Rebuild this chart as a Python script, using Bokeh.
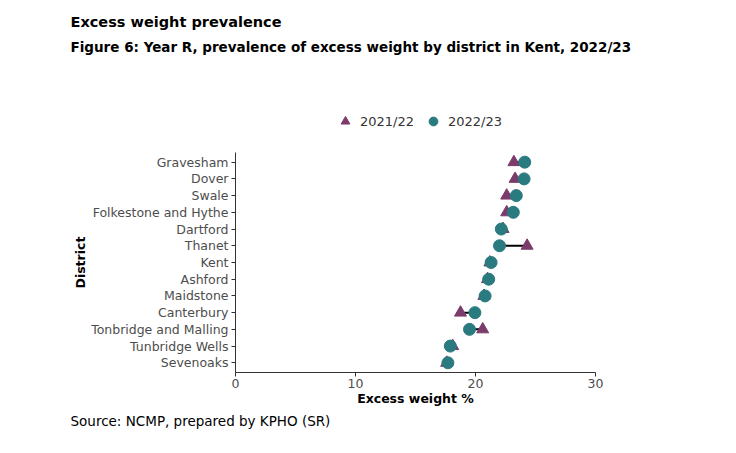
from bokeh.plotting import figure
from bokeh.models import (ColumnDataSource, Range1d, FixedTicker, Legend,
                          LegendItem, Title)
from bokeh.embed import file_html
from bokeh.resources import INLINE

districts = ["Gravesham", "Dover", "Swale", "Folkestone and Hythe", "Dartford", "Thanet",
             "Kent", "Ashford", "Maidstone", "Canterbury", "Tonbridge and Malling",
             "Tunbridge Wells", "Sevenoaks"]
y2021 = [23.2, 23.3, 22.6, 22.6, 22.3, 24.3, 21.2, 21.0, 20.7, 18.75, 20.6, 18.1, 17.6]
y2022 = [24.1, 24.05, 23.4, 23.15, 22.15, 22.0, 21.3, 21.1, 20.8, 19.95, 19.5, 17.9, 17.7]
x_ticks = [0, 10, 20, 30]

FONT = "DejaVu Sans"
TRI = "#7b3b6b"
CIR = "#2a7b80"

n = len(districts)
ypos = [n - 1 - i for i in range(n)]
src = ColumnDataSource(dict(y=ypos, a=y2021, b=y2022))

p = figure(width=720, height=437, output_backend="svg", toolbar_location=None,
           title_location=None,
           y_range=Range1d(-0.58, n - 1 + 6.32),
           x_range=Range1d(0, 30),
           frame_width=360, frame_height=316,
           min_border_left=235, min_border_right=125, min_border_top=56, min_border_bottom=65)
p.outline_line_color = None
p.xgrid.visible = False
p.ygrid.visible = False
p.background_fill_color = "white"
p.border_fill_color = "white"

p.segment(x0="a", x1="b", y0="y", y1="y", source=src, line_color="black", line_width=2)
r1 = p.scatter(x="a", y="y", source=src, marker="triangle", size=12, fill_color=TRI,
               line_color=TRI)
r2 = p.scatter(x="b", y="y", source=src, marker="circle", size=12, fill_color=CIR,
               line_color=CIR)

for ax in (p.xaxis[0], p.yaxis[0]):
    ax.axis_line_color = "#333333"
    ax.major_tick_line_color = "#333333"
    ax.major_tick_out = 4
    ax.major_tick_in = 0
    ax.minor_tick_line_color = None
    ax.major_label_text_font = FONT
    ax.major_label_text_font_size = "12.5px"
    ax.major_label_text_color = "#4d4d4d"
    ax.major_label_standoff = 3
    ax.axis_label_text_font = FONT
    ax.axis_label_text_font_size = "12.5px"
    ax.axis_label_text_font_style = "bold"
    ax.axis_label_text_color = "black"
    ax.axis_label_standoff = 0

p.xaxis[0].major_label_standoff = 2
p.xaxis[0].ticker = FixedTicker(ticks=x_ticks)
p.xaxis[0].axis_label = "Excess weight %"

p.yaxis[0].ticker = FixedTicker(ticks=ypos)
p.yaxis[0].major_label_overrides = {y: d for y, d in zip(ypos, districts)}
p.yaxis[0].bounds = (-0.58, n - 1 + 0.58)

legend = Legend(items=[LegendItem(label="2021/22", renderers=[r1]),
                       LegendItem(label="2022/23", renderers=[r2])],
                orientation="horizontal", location=(99, 240),
                padding=0, margin=0, spacing=8, label_standoff=4,
                glyph_width=22, glyph_height=22, label_height=22,
                label_text_font=FONT, label_text_font_size="13px",
                label_text_color="#333333", border_line_color=None,
                background_fill_alpha=0)
p.add_layout(legend, "center")

p.add_layout(Title(text="District", align="left", offset=84, standoff=2,
                   text_font=FONT, text_font_size="12.5px", text_font_style="bold",
                   text_color="black"), "left")

p.add_layout(Title(text="Figure 6: Year R, prevalence of excess weight by district in Kent, 2022/23",
                   align="left", offset=-165, standoff=4, text_font=FONT,
                   text_font_size="13.5px", text_font_style="bold", text_color="black"), "above")
p.add_layout(Title(text="Excess weight prevalence", align="left", offset=-165,
                   text_font=FONT, text_font_size="14.5px", text_font_style="bold",
                   text_color="black"), "above")
p.add_layout(Title(text="Source: NCMP, prepared by KPHO (SR)", align="left", offset=-165,
                   standoff=4, text_font=FONT, text_font_size="13.5px",
                   text_font_style="normal", text_color="black"), "below")

open("out.html", "w").write(file_html(p, INLINE))
